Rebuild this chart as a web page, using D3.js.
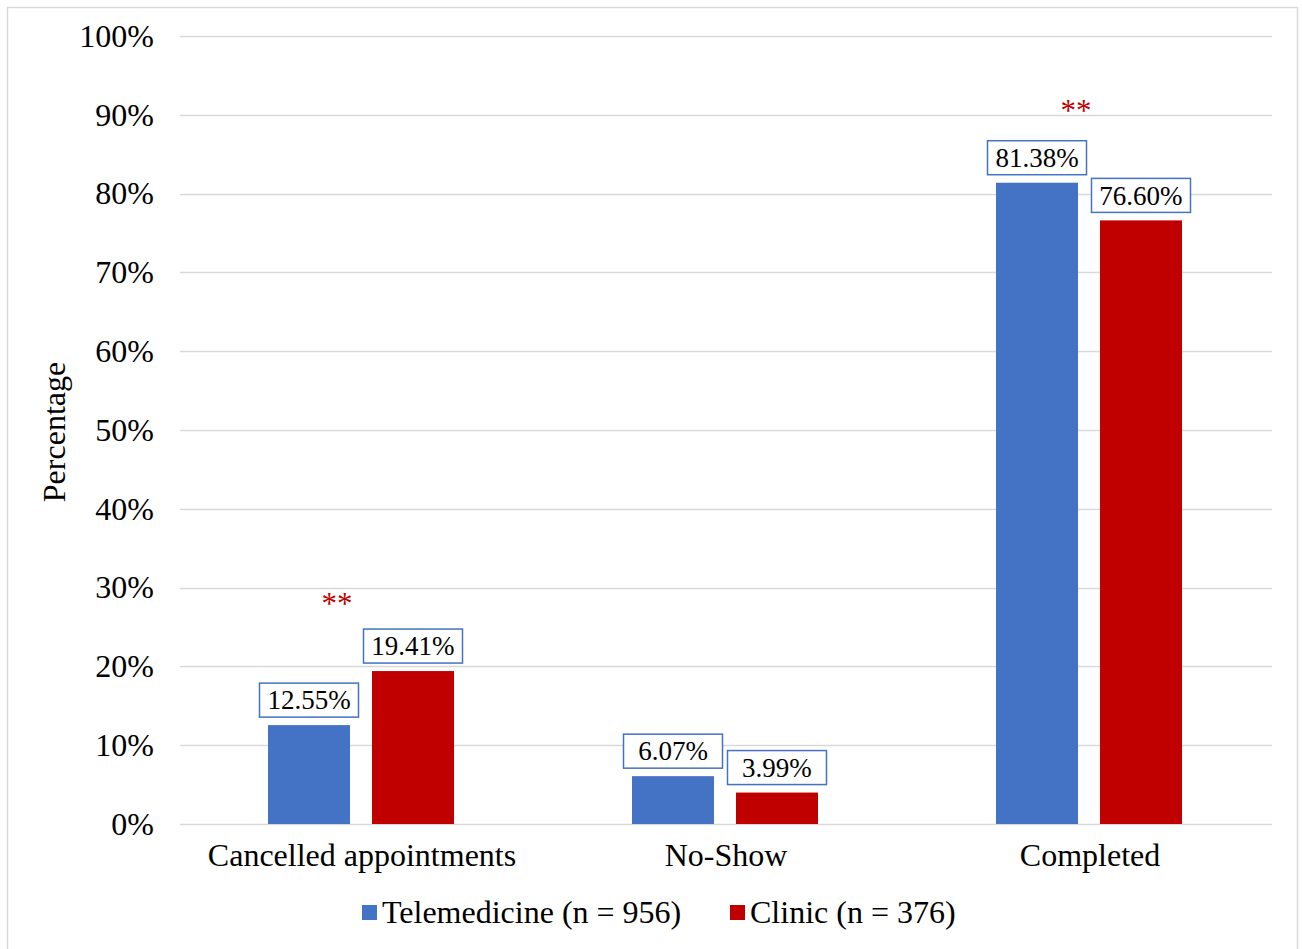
<!DOCTYPE html>
<html>
<head>
<meta charset="utf-8">
<script src="https://cdn.jsdelivr.net/npm/d3@7"></script>
<style>
  html, body { margin: 0; padding: 0; background: #fff; }
  svg { display: block; font-family: "Liberation Serif", "Times New Roman", serif; }
</style>
</head>
<body>
<svg id="chart" width="1302" height="949"></svg>
<script>
// Appointment outcomes by visit type
const categories = ["Cancelled appointments", "No-Show", "Completed"];
const seriesNames = ["Telemedicine (n = 956)", "Clinic (n = 376)"];
const telemedicine = [12.55, 6.07, 81.38];
const clinic = [19.41, 3.99, 76.60];
const seriesColors = ["#4472C4", "#C00000"];
const yTicks = [0, 10, 20, 30, 40, 50, 60, 70, 80, 90, 100];
// significance markers: category and height (percent) at which "**" sits
const sigCategories = ["Cancelled appointments", "Completed"];
const sigHeights = [28.4, 91.0];

const svg = d3.select("#chart");
const W = 1302, H = 949;
const margin = { left: 180, right: 30, top: 36, bottom: 125 };
// horizontal nudge of each "**" from its category centre
const sigNudge = [-25, -14];

// outer frame
svg.append("rect")
  .attr("x", 7.5).attr("y", 7.5)
  .attr("width", W - 12).attr("height", H - 5)
  .attr("fill", "#fff").attr("stroke", "#d9d9d9").attr("stroke-width", 1.5);

const x0 = d3.scaleBand()
  .domain(categories)
  .range([margin.left, W - margin.right])
  .paddingInner(0).paddingOuter(0);

const y = d3.scaleLinear().domain([0, 100]).range([H - margin.bottom, margin.top]);

const groupWidth = 186;
const x1 = d3.scaleBand()
  .domain(seriesNames)
  .range([0, groupWidth])
  .paddingInner(0.2115);

// gridlines
svg.append("g")
  .selectAll("line")
  .data(yTicks)
  .join("line")
  .attr("x1", margin.left).attr("x2", W - margin.right)
  .attr("y1", d => Math.round(y(d)) + 0.5).attr("y2", d => Math.round(y(d)) + 0.5)
  .attr("stroke", "#d9d9d9").attr("stroke-width", 1.5);

// y axis labels
const yAxis = d3.axisLeft(y).tickValues(yTicks).tickFormat(d => d + "%").tickSize(0).tickPadding(26);
const yg = svg.append("g").attr("transform", `translate(${margin.left},0)`).call(yAxis);
yg.select(".domain").remove();
yg.selectAll("text")
  .attr("font-family", "Liberation Serif, serif")
  .attr("font-size", 32).attr("fill", "#000").attr("dy", "0.32em");

// y axis title
svg.append("text")
  .attr("transform", `translate(65, ${y(50) + 2}) rotate(-90)`)
  .attr("text-anchor", "middle")
  .attr("font-size", 32)
  .attr("fill", "#000")
  .text("Percentage");

// category labels
const xAxis = d3.axisBottom(x0).tickSize(0).tickPadding(19);
const xg = svg.append("g").attr("transform", `translate(0,${y(0)})`).call(xAxis);
xg.select(".domain").remove();
xg.selectAll("text")
  .attr("font-family", "Liberation Serif, serif")
  .attr("font-size", 32).attr("fill", "#000");

// bars
const rows = categories.map((c, i) => ({ cat: c, values: [telemedicine[i], clinic[i]] }));
const groups = svg.append("g").selectAll("g")
  .data(rows)
  .join("g")
  .attr("transform", d => `translate(${x0(d.cat) + (x0.bandwidth() - groupWidth) / 2 - 1},0)`);

const barData = d => d.values.map((v, j) => ({ series: seriesNames[j], value: v, color: seriesColors[j] }));

groups.selectAll("rect.bar")
  .data(barData)
  .join("rect")
  .attr("class", "bar")
  .attr("x", d => x1(d.series))
  .attr("y", d => y(d.value))
  .attr("width", x1.bandwidth())
  .attr("height", d => y(0) - y(d.value))
  .attr("fill", d => d.color);

// value labels in boxes
const boxW = 99, boxH = 34, boxGap = 8;
const labels = groups.selectAll("g.lbl")
  .data(barData)
  .join("g")
  .attr("class", "lbl")
  .attr("transform", d => `translate(${x1(d.series) + x1.bandwidth() / 2},${y(d.value) - boxGap - boxH / 2})`);

labels.append("rect")
  .attr("x", -boxW / 2).attr("y", -boxH / 2)
  .attr("width", boxW).attr("height", boxH)
  .attr("fill", "#fff").attr("stroke", "#4472C4").attr("stroke-width", 1.5);

labels.append("text")
  .attr("text-anchor", "middle")
  .attr("dy", "0.34em")
  .attr("font-size", 27)
  .attr("fill", "#000")
  .text(d => d.value.toFixed(2) + "%");

// significance markers
svg.append("g").selectAll("text")
  .data(sigCategories.map((c, i) => ({ cat: c, h: sigHeights[i], nudge: sigNudge[i] })))
  .join("text")
  .attr("x", d => x0(d.cat) + x0.bandwidth() / 2 + d.nudge)
  .attr("y", d => y(d.h))
  .attr("dy", "0.45em")
  .attr("text-anchor", "middle")
  .attr("font-size", 31)
  .attr("fill", "#C00000")
  .text("**");

// legend
const legendItems = seriesNames.map((n, i) => ({ name: n, color: seriesColors[i] }));
const legendX = [362, 730];
const legend = svg.append("g").selectAll("g")
  .data(legendItems)
  .join("g")
  .attr("transform", (d, i) => `translate(${legendX[i]},912)`);
legend.append("rect")
  .attr("x", 0).attr("y", -7)
  .attr("width", 15).attr("height", 15)
  .attr("fill", d => d.color);
legend.append("text")
  .attr("x", 20).attr("y", 0)
  .attr("dy", "0.34em")
  .attr("font-size", 32)
  .attr("fill", "#000")
  .text(d => d.name);
</script>
</body>
</html>
